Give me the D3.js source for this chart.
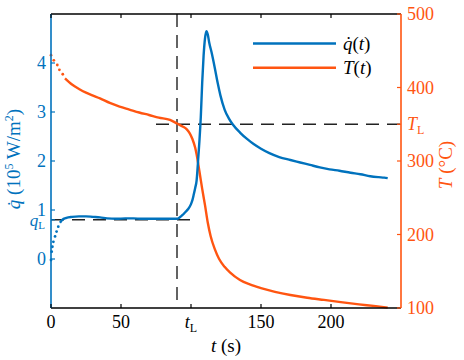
<!DOCTYPE html>
<html>
<head>
<meta charset="utf-8">
<script src="https://cdn.jsdelivr.net/npm/d3@7"></script>
<style>
  body { margin: 0; background: #fff; }
  svg text, svg tspan { font-family: "Liberation Serif", "Times New Roman", serif !important; }
</style>
</head>
<body>
<div id="chart"></div>
<script>
// data
var qEarlyTime = [0, 0.5, 1, 1.7, 2.9, 4, 5.2];
var qEarlyVal = [-0.02, 0.15, 0.25, 0.35, 0.46, 0.56, 0.66];

var qTime = [6.4, 8, 11, 15, 20, 25, 30, 35, 40, 47, 53, 59, 65, 70, 75, 80, 85, 88, 90, 92, 94, 96, 98,
  100, 101, 102, 103, 104, 105, 106, 107, 108, 109, 110, 111, 112, 113, 115, 117, 119, 121, 124, 127,
  130, 135, 140, 145, 150, 156, 163, 171, 178, 185, 192, 199, 206, 214, 221, 228, 234, 238, 240.5];
var qVal = [0.74, 0.8, 0.84, 0.86, 0.87, 0.87, 0.86, 0.85, 0.83, 0.82, 0.83, 0.83, 0.82, 0.82, 0.82, 0.82, 0.82, 0.82, 0.82, 0.85, 0.9, 0.96, 1.02,
  1.12, 1.2, 1.32, 1.45, 1.6, 1.98, 2.4, 2.9, 3.6, 4.15, 4.5, 4.65, 4.58, 4.42, 4.18, 3.9, 3.6, 3.34, 3.05, 2.87,
  2.74, 2.58, 2.45, 2.34, 2.25, 2.16, 2.08, 2.02, 1.97, 1.92, 1.87, 1.83, 1.8, 1.76, 1.73, 1.69, 1.67, 1.66, 1.65];

var tEarlyTime = [0, 2, 4.5, 6, 8.4];
var tEarlyVal = [444, 437, 430.6, 424, 418];

var tTime = [10, 15, 20, 25, 30, 35, 42, 49, 56, 63, 70, 77, 85, 90, 94, 97, 99, 101, 103, 104, 105, 106.5,
  108, 110, 112, 114, 117, 120, 124, 128, 135, 142, 150, 160, 171, 183, 195, 207, 220, 232, 240.5];
var tVal = [412.5, 404, 398, 393, 389, 385.3, 379, 374, 370, 366, 362.6, 359, 355.8, 351, 347, 343, 338, 330, 318, 309, 298, 280,
  262, 240, 216, 198, 180, 167, 156, 148, 138, 132, 127, 122, 117.7, 114, 111, 108, 105, 102.5, 100.5];

var xTicks = [0, 50, 100, 150, 200];
var xTickLabels = ["0", "50", "tL", "150", "200"];
var qTicks = [0, 1, 2, 3, 4];
var tTicks = [100, 200, 300, 400, 500];

var tL = 90;     // time of vertical marker
var qL = 0.8;    // heat flux level
var TL = 350;    // temperature level

var blue = "#0072BD";
var orange = "#FF5511";
var fontName = "Liberation Serif";

var svgWidth = 464;
var svgHeight = 360;
var margin = { top: 14, right: 63, bottom: 52, left: 51 };
var width = svgWidth - margin.left - margin.right;
var height = svgHeight - margin.top - margin.bottom;

var svg = d3.select("#chart")
  .append("svg")
  .attr("width", svgWidth)
  .attr("height", svgHeight)
  .attr("font-family", fontName);

var chartGroup = svg.append("g")
  .attr("transform", `translate(${margin.left}, ${margin.top})`);

var x = d3.scaleLinear().domain([0, 250]).range([0, width]);
var yQ = d3.scaleLinear().domain([-1, 5]).range([height, 0]);
var yT = d3.scaleLinear().domain([100, 500]).range([height, 0]);

// dashed guide lines
var dash = "13,8";
chartGroup.append("line")
  .attr("x1", x(tL)).attr("x2", x(tL))
  .attr("y1", 0).attr("y2", height)
  .attr("stroke", "#222").attr("stroke-width", 1.4).attr("stroke-dasharray", dash);
chartGroup.append("line")
  .attr("x1", x(0)).attr("x2", x(105))
  .attr("y1", yQ(qL)).attr("y2", yQ(qL))
  .attr("stroke", "#222").attr("stroke-width", 1.4).attr("stroke-dasharray", dash);
chartGroup.append("line")
  .attr("x1", x(75)).attr("x2", width)
  .attr("y1", yT(TL)).attr("y2", yT(TL))
  .attr("stroke", "#222").attr("stroke-width", 1.4).attr("stroke-dasharray", dash);

// curves
var qData = qTime.map((t, i) => ({ t: t, v: qVal[i] }));
var tData = tTime.map((t, i) => ({ t: t, v: tVal[i] }));

var qLine = d3.line().x(d => x(d.t)).y(d => yQ(d.v)).curve(d3.curveMonotoneX);
var tLine = d3.line().x(d => x(d.t)).y(d => yT(d.v)).curve(d3.curveMonotoneX);

chartGroup.append("path")
  .datum(tData)
  .attr("d", tLine)
  .attr("fill", "none")
  .attr("stroke", orange)
  .attr("stroke-width", 2.4);

chartGroup.selectAll(".tdot")
  .data(tEarlyTime)
  .enter()
  .append("circle")
  .attr("class", "tdot")
  .attr("cx", d => x(d))
  .attr("cy", (d, i) => yT(tEarlyVal[i]))
  .attr("r", 1.4)
  .attr("fill", orange);

chartGroup.append("path")
  .datum(qData)
  .attr("d", qLine)
  .attr("fill", "none")
  .attr("stroke", blue)
  .attr("stroke-width", 2.4);

chartGroup.selectAll(".qdot")
  .data(qEarlyTime)
  .enter()
  .append("circle")
  .attr("class", "qdot")
  .attr("cx", d => x(d))
  .attr("cy", (d, i) => yQ(qEarlyVal[i]))
  .attr("r", 1.4)
  .attr("fill", blue);

// box and ticks
var tickLen = 4;
chartGroup.append("line").attr("x1", 0).attr("x2", width).attr("y1", 0).attr("y2", 0)
  .attr("stroke", "#000").attr("stroke-width", 1.6);
chartGroup.append("line").attr("x1", 0).attr("x2", width).attr("y1", height).attr("y2", height)
  .attr("stroke", "#000").attr("stroke-width", 1.6);
chartGroup.append("line").attr("x1", 0).attr("x2", 0).attr("y1", 0).attr("y2", height)
  .attr("stroke", blue).attr("stroke-width", 1.6);
chartGroup.append("line").attr("x1", width).attr("x2", width).attr("y1", 0).attr("y2", height)
  .attr("stroke", orange).attr("stroke-width", 1.6);

xTicks.forEach(function(t) {
  chartGroup.append("line").attr("x1", x(t)).attr("x2", x(t)).attr("y1", 0).attr("y2", tickLen)
    .attr("stroke", "#000").attr("stroke-width", 1.2);
  chartGroup.append("line").attr("x1", x(t)).attr("x2", x(t)).attr("y1", height).attr("y2", height - tickLen)
    .attr("stroke", "#000").attr("stroke-width", 1.2);
});

// x tick labels
xTicks.forEach(function(t, i) {
  var lab = chartGroup.append("text")
    .attr("x", x(t))
    .attr("y", height + 20)
    .attr("text-anchor", "middle")
    .style("font-family", fontName)
    .style("font-size", "18px")
    .attr("fill", "#000");
  if (xTickLabels[i] == "tL") {
    lab.append("tspan").style("font-style", "italic").text("t");
    lab.append("tspan").attr("dy", 4).style("font-size", "12px").text("L");
  } else {
    lab.text(xTickLabels[i]);
  }
});

// left axis ticks and labels
qTicks.concat([qL]).forEach(function(v) {
  chartGroup.append("line").attr("x1", 0).attr("x2", tickLen).attr("y1", yQ(v)).attr("y2", yQ(v))
    .attr("stroke", blue).attr("stroke-width", 1.2);
});
qTicks.forEach(function(v) {
  chartGroup.append("text")
    .attr("x", -5)
    .attr("y", yQ(v) + 6)
    .attr("text-anchor", "end")
    .style("font-family", fontName)
    .style("font-size", "18px")
    .attr("fill", blue)
    .text(v);
});
var qLab = chartGroup.append("text")
  .attr("x", -6)
  .attr("y", yQ(qL) + 6)
  .attr("text-anchor", "end")
  .style("font-family", fontName)
  .style("font-size", "17px")
  .attr("fill", blue);
qLab.append("tspan").style("font-style", "italic").text("q");
qLab.append("tspan").attr("dy", 3).style("font-size", "11px").text("L");

// right axis ticks and labels
tTicks.concat([TL]).forEach(function(v) {
  chartGroup.append("line").attr("x1", width).attr("x2", width - tickLen).attr("y1", yT(v)).attr("y2", yT(v))
    .attr("stroke", orange).attr("stroke-width", 1.2);
});
tTicks.forEach(function(v) {
  chartGroup.append("text")
    .attr("x", width + 6)
    .attr("y", yT(v) + 6)
    .style("font-family", fontName)
    .style("font-size", "18px")
    .attr("fill", orange)
    .text(v);
});
var TLab = chartGroup.append("text")
  .attr("x", width + 6)
  .attr("y", yT(TL) + 6)
  .style("font-family", fontName)
  .style("font-size", "18px")
  .attr("fill", orange);
TLab.append("tspan").style("font-style", "italic").text("T");
TLab.append("tspan").attr("dy", 4).style("font-size", "12px").text("L");

// legend
var legend = chartGroup.append("g");
[["q\u0307", blue, 29.5], ["T", orange, 53.7]].forEach(function(item) {
  legend.append("line")
    .attr("x1", 202).attr("x2", 285)
    .attr("y1", item[2]).attr("y2", item[2])
    .attr("stroke", item[1]).attr("stroke-width", 2.4);
  var txt = legend.append("text")
    .attr("x", 292)
    .attr("y", item[2] + 6)
    .style("font-family", fontName)
    .style("font-size", "19px")
    .attr("fill", "#000");
  txt.append("tspan").style("font-style", "italic").text(item[0]);
  txt.append("tspan").text("(");
  txt.append("tspan").style("font-style", "italic").text("t");
  txt.append("tspan").text(")");
});

// axis titles
var xTitle = svg.append("text")
  .attr("x", margin.left + width / 2)
  .attr("y", 352)
  .attr("text-anchor", "middle")
  .style("font-family", fontName)
  .style("font-size", "19px");
xTitle.append("tspan").style("font-style", "italic").text("t");
xTitle.append("tspan").text(" (s)");

var yTitle = svg.append("text")
  .attr("transform", "translate(20, 159) rotate(-90)")
  .attr("text-anchor", "middle")
  .style("font-family", fontName)
  .style("font-size", "19px")
  .attr("fill", blue);
yTitle.append("tspan").style("font-style", "italic").text("q\u0307");
yTitle.append("tspan").text(" (10");
yTitle.append("tspan").attr("dy", -7).style("font-size", "12px").text("5");
yTitle.append("tspan").attr("dy", 7).text(" W/m");
yTitle.append("tspan").attr("dy", -7).style("font-size", "12px").text("2");
yTitle.append("tspan").attr("dy", 7).text(")");

var y2Title = svg.append("text")
  .attr("transform", "translate(452, 165) rotate(-90)")
  .attr("text-anchor", "middle")
  .style("font-family", fontName)
  .style("font-size", "19px")
  .attr("fill", orange);
y2Title.append("tspan").style("font-style", "italic").text("T");
y2Title.append("tspan").text(" (\u00B0C)");
</script>
</body>
</html>
